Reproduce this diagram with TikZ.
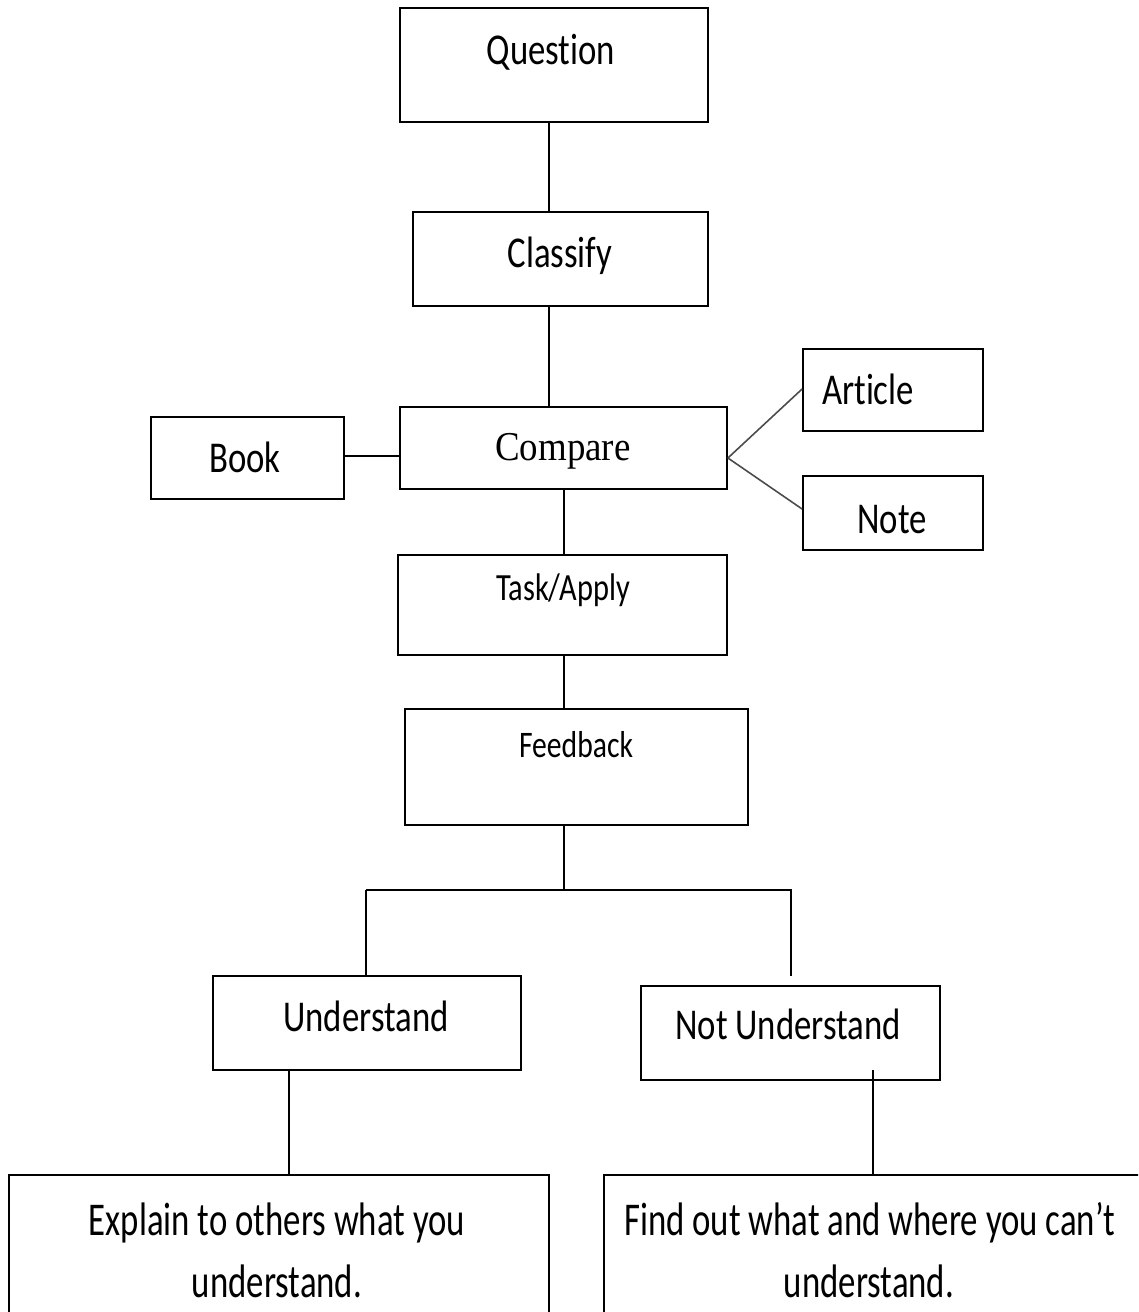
\documentclass[tikz,border=0pt]{standalone}
\usepackage{fontspec}
\setmainfont{Carlito}[FakeStretch=0.79,Ligatures=CommonOff]
\newfontfamily\narrowfont{Carlito}[FakeStretch=0.74,Ligatures=CommonOff]
\newfontfamily\cmpfont{Liberation Serif}[FakeStretch=0.9]
\begin{document}
\begin{tikzpicture}[x=1bp,y=-1bp,
  box/.style={draw=black,line width=1.8bp,rectangle,inner sep=0pt},
  lbl/.style={anchor=base,inner sep=0pt,font=\fontsize{44bp}{50bp}\selectfont},
  wide/.style={anchor=base,inner sep=0pt,font=\narrowfont\fontsize{47bp}{54bp}\selectfont},
  small/.style={anchor=base,inner sep=0pt,font=\fontsize{38.5bp}{44bp}\selectfont},
  link/.style={draw=black,line width=1.8bp},
  slant/.style={draw=black!70,line width=1.6bp}]
\useasboundingbox (0,0) rectangle (1138,1312);
\clip (0,0) rectangle (1138,1312);

% boxes
\node[box,minimum width=308bp,minimum height=114bp] (q)    at (554,65)    {};
\node[box,minimum width=295bp,minimum height=94bp]  (cl)   at (560.5,259) {};
\node[box,minimum width=327bp,minimum height=82bp]  (cmp)  at (563.5,448) {};
\node[box,minimum width=193bp,minimum height=82bp]  (book) at (247.5,458) {};
\node[box,minimum width=180bp,minimum height=82bp]  (art)  at (893,390)   {};
\node[box,minimum width=180bp,minimum height=74bp]  (note) at (893,513)   {};
\node[box,minimum width=329bp,minimum height=100bp] (task) at (562.5,605) {};
\node[box,minimum width=343bp,minimum height=116bp] (fb)   at (576.5,767) {};
\node[box,minimum width=308bp,minimum height=94bp]  (und)  at (367,1023)  {};
\node[box,minimum width=299bp,minimum height=94bp]  (nund) at (790.5,1033){};
\node[box,minimum width=540bp,minimum height=165bp] (exp)  at (279,1257.5){};
\node[box,minimum width=556bp,minimum height=165bp] (find) at (882,1257.5){};

% labels
\node[lbl] (tq)    at (551,65)   {Question};
\node[lbl] (tcl)   at (560,268)  {Classify};
\node[lbl,font=\cmpfont\fontsize{41bp}{48bp}\selectfont] (tcmp) at (563,460) {Compare};
\node[lbl] (tbook) at (245,472)  {Book};
\node[lbl] (tart)  at (868,404)  {Article};
\node[lbl] (tnote) at (892,533)  {Note};
\node[small] (ttask) at (563,600) {Task/Apply};
\node[small,font=\fontsize{37.5bp}{42bp}\selectfont] (tfb) at (576,757) {Feedback};
\node[lbl] (tund)  at (366,1031) {Understand};
\node[lbl] (tnund) at (788,1039) {Not Understand};
\node[wide] (texp1) at (277,1235) {Explain to others what you};
\node[wide] (texp2) at (277,1297) {understand.};
\node[wide] (tfind1) at (870,1235) {Find out what and where you can’t};
\node[wide] (tfind2) at (869,1297) {understand.};

% joints of the branching connectors
\coordinate (split) at (564,890);
\coordinate (splitl) at (366,890);
\coordinate (splitr) at (792,890);
\coordinate (nundend) at (791,976);
\coordinate (nundfoot) at (873,1070);

% connectors
\draw[link] ([xshift=-5bp]q.south) -- ([xshift=-5bp]q.south |- cl.north);
\draw[link] ([xshift=-11.5bp]cl.south) -- ([xshift=-11.5bp]cl.south |- cmp.north);
\draw[link] ([yshift=2bp]book.east) -- ([yshift=2bp]book.east -| cmp.west);
\draw[slant] ([yshift=-10bp]cmp.east) -- ([yshift=1bp]art.west);
\draw[slant] ([yshift=-10bp]cmp.east) -- ([yshift=4bp]note.west);
\draw[link] ([xshift=0.5bp]cmp.south) -- ([xshift=0.5bp]cmp.south |- task.north);
\draw[link] ([xshift=1.5bp]task.south) -- ([xshift=1.5bp]task.south |- fb.north);
\draw[link] (fb.south -| split) -- (split);
\draw[link] (splitl) -- (splitr);
\draw[link] (splitl) -- (splitl |- und.north);
\draw[link] ([xshift=-1bp]splitr) -- (nundend);
\draw[link] (und.south -| 289,0) -- (exp.north -| 289,0);
\draw[link] (nundfoot) -- (nundfoot |- find.north);
\end{tikzpicture}
\end{document}
